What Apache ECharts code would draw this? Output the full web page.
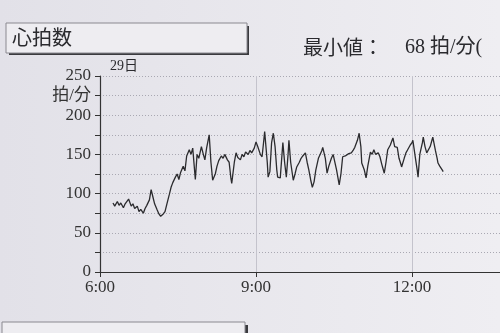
<!DOCTYPE html>
<html><head><meta charset="utf-8">
<script src="https://cdn.jsdelivr.net/npm/echarts@6/dist/echarts.min.js"></script>
<style>html,body{margin:0;padding:0;}#c{width:500px;height:333px;}</style>
</head><body><div id="c"></div>
<script>
// minutes since midnight
var times = [375,377,380,382,384,387,389,391,393,396,398,400,403,405,407,410,412,414,417,419,421,423,426,428,430,433,435,437,440,442,444,447,449,451,453,456,458,460,463,465,467,470,472,474,477,479,481,483,486,488,490,493,495,497,500,502,504,507,509,511,512,515,517,519,522,524,526,528,531,533,535,538,540,542,545,547,549,550,553,554,556,558,560,562,564,565,568,570,571,573,575,577,578,580,583,585,587,590,592,594,597,599,601,603,605,607,609,612,614,616,617,620,622,624,627,629,631,633,636,638,640,643,645,647,650,652,654,657,659,661,662,665,667,669,672,674,676,678,681,683,685,688,690,692,695,697,698,700,703,705,707,708,711,713,715,718,720,721,724,726,727,729,732,733,735,737,739,741,743,744,747,749,750,752,755,756];
var heartRate = [88,84,90,85,88,82,87,85,93,84,87,81,84,77,80,75,81,85,92,105,96,87,79,74,71,74,77,86,99,108,114,121,125,118,127,135,129,148,156,150,158,118,150,145,160,151,143,158,175,140,117,125,135,142,148,145,150,143,140,120,113,140,152,146,143,150,147,153,150,155,152,158,166,160,150,147,168,179,140,121,128,165,177,160,130,121,120,150,165,140,121,150,168,140,117,125,134,140,145,148,152,140,130,118,108,115,130,145,150,155,159,145,126,135,145,150,152,130,111,125,147,148,150,151,152,155,159,168,177,160,139,130,120,135,153,150,156,150,152,147,138,126,140,156,162,168,171,160,159,145,138,134,145,152,156,162,165,168,145,130,121,150,165,172,160,152,150,160,168,172,155,145,139,135,130,128];
var yTicks = [0,50,100,150,200,250];
var yUnit = '拍/分';
var titleText = '心拍数';
var dayText = '29日';
var minLabel = '最小値：';
var minValue = '68 拍/分(';

var serif = "'Liberation Serif','DejaVu Serif','Noto Sans CJK JP',serif";
var pts = times.map(function(t,i){return [t, heartRate[i]];});
var chart = echarts.init(document.getElementById('c'));
chart.setOption({
  backgroundColor: {type:'linear',x:0,y:0,x2:1,y2:0,colorStops:[{offset:0,color:'#e2e1e8'},{offset:1,color:'#efeef2'}]},
  animation:false,
  grid:{left:100, top:76, height:196, width:468, containLabel:false, outerBoundsMode:'none'},
  xAxis:{type:'value', min:360, max:900, interval:180,
    axisLine:{lineStyle:{color:'#333',width:1.2}},
    axisTick:{show:true,length:5,lineStyle:{color:'#333'}},
    axisLabel:{color:'#333',fontFamily:serif,fontSize:17,margin:7,
      formatter:function(v){return Math.floor(v/60)+':00';}},
    splitLine:{show:true,lineStyle:{color:'#c4c3cc',width:1}}
  },
  yAxis:{type:'value', min:0, max:250, interval:25,
    axisLine:{show:true,lineStyle:{color:'#333',width:1.2}},
    axisTick:{show:true,length:5,lineStyle:{color:'#333'}},
    axisLabel:{color:'#333',fontFamily:serif,fontSize:17,margin:9,
      formatter:function(v){ if(yTicks.indexOf(v)>=0) return String(v); if(v===225) return yUnit; return ''; }},
    splitLine:{show:true,lineStyle:{color:'#a9a8b2',type:[1,2],width:1}}
  },
  series:[{type:'line', data:pts, showSymbol:false, lineStyle:{color:'#2b2b2e',width:1.3}}],
  graphic:[
    {type:'rect',shape:{x:9,y:26,width:240,height:29},style:{fill:'#3a3a3e'}},
    {type:'rect',shape:{x:6,y:23,width:241,height:30},style:{fill:'#eeedf1',stroke:'#8a8990',lineWidth:1}},
    {type:'text',left:12,top:27,style:{text:titleText,font:"20px 'Noto Sans CJK JP'",fill:'#2a2a2e'}},
    {type:'text',left:303,top:37,style:{text:minLabel,font:"20px 'Noto Sans CJK JP'",fill:'#2a2a2e'}},
    {type:'text',left:405,top:38,style:{text:minValue,font:"20px "+serif,fill:'#2a2a2e'}},
    {type:'text',left:110,top:59,style:{text:dayText,font:"14px "+serif,fill:'#2a2a2e'}},
    {type:'rect',shape:{x:5,y:325,width:243,height:30},style:{fill:'#3a3a3e'}},
    {type:'rect',shape:{x:2,y:322,width:243,height:30},style:{fill:'#eeedf1',stroke:'#8a8990',lineWidth:1}}
  ]
});
</script></body></html>
